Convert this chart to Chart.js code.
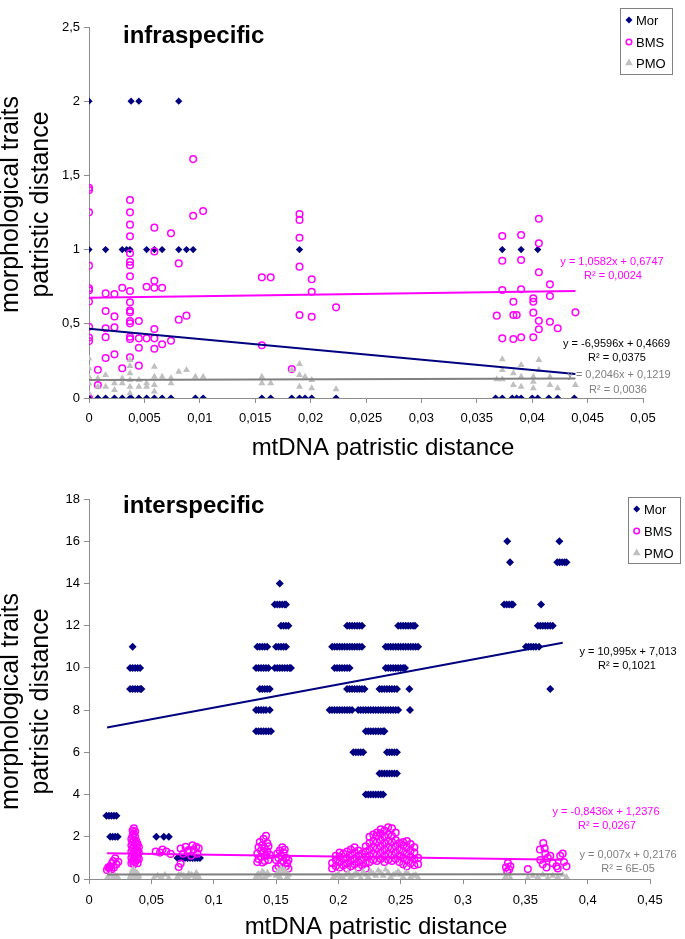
<!DOCTYPE html>
<html><head><meta charset="utf-8">
<script src="https://cdn.jsdelivr.net/npm/chart.js@4.4.0/dist/chart.umd.min.js"></script>
<style>
html,body{margin:0;padding:0;background:#fff;}
#wrap{position:relative;width:685px;height:939px;overflow:hidden;background:#fff;}
canvas{position:absolute;left:0;}
</style></head><body>
<div id="wrap">
<canvas id="c1" width="685" height="470" style="top:0px"></canvas>
<canvas id="c2" width="685" height="469" style="top:470px"></canvas>
</div>
<script>
// ---------- tick labels ----------
const xTickValsInfra = [0,0.005,0.01,0.015,0.02,0.025,0.03,0.035,0.04,0.045,0.05];
const xTickLabelsInfra = ['0','0,005','0,01','0,015','0,02','0,025','0,03','0,035','0,04','0,045','0,05'];
const yTickValsInfra = [0,0.5,1,1.5,2,2.5];
const yTickLabelsInfra = ['0','0,5','1','1,5','2','2,5'];
const xTickValsInter = [0,0.05,0.1,0.15,0.2,0.25,0.3,0.35,0.4,0.45];
const xTickLabelsInter = ['0','0,05','0,1','0,15','0,2','0,25','0,3','0,35','0,4','0,45'];
const yTickValsInter = [0,2,4,6,8,10,12,14,16,18];
const yTickLabelsInter = ['0','2','4','6','8','10','12','14','16','18'];

// ---------- infraspecific data [x, y] ----------
const morInfra = [
[0,2],[0.0038,2],[0.0045,2],[0.0081,2],
[0,1],[0.0015,1],[0.0030,1],[0.0034,1],[0.0037,1],[0.0052,1],[0.0059,1],[0.0066,1],[0.0081,1],[0.0088,1],[0.0094,1],[0.0190,1],[0.0373,1],[0.0390,1],[0.0405,1],
[0,0],[0.0008,0],[0.0015,0],[0.0023,0],[0.0030,0],[0.0037,0],[0.0038,0],[0.0045,0],[0.0052,0],[0.0059,0],[0.0066,0],[0.0074,0],[0.0096,0],[0.0103,0],[0.0156,0],[0.0164,0],[0.0183,0],[0.0190,0],[0.0195,0],[0.0201,0],[0.0223,0],
[0.0367,0],[0.0373,0],[0.0382,0],[0.0386,0],[0.0390,0],[0.0400,0],[0.0405,0],[0.0415,0],[0.0423,0],[0.0438,0]
];
const bmsInfra = [
[0,1.417],[0,1.402],[0,1.251],[0,0.892],[0,0.74],[0,0.726],[0,0.650],[0,0.480],[0,0.408],[0,0.384],[0,0.0],
[0.0008,0.19],[0.0008,0.088],
[0.0015,0.705],[0.0015,0.586],[0.0015,0.47],[0.0015,0.41],[0.0015,0.27],
[0.0023,0.70],[0.0023,0.55],[0.0023,0.476],[0.0023,0.294],
[0.0030,0.743],[0.0030,0.20],
[0.0037,1.334],[0.0037,1.251],[0.0037,1.168],[0.0037,1.09],[0.0037,0.975],[0.0037,0.918],[0.0037,0.895],[0.0037,0.82],[0.0037,0.721],[0.0037,0.645],[0.0037,0.59],[0.0037,0.577],[0.0037,0.519],[0.0037,0.503],[0.0037,0.413],[0.0037,0.398],[0.0037,0.274],
[0.0045,0.519],[0.0045,0.402],[0.0045,0.339],[0.0045,0.218],
[0.0052,0.75],[0.0052,0.402],
[0.0059,1.148],[0.0059,0.988],[0.0059,0.79],[0.0059,0.743],[0.0059,0.465],[0.0059,0.402],[0.0059,0.332],
[0.0066,0.743],[0.0066,0.362],
[0.0074,1.11],[0.0074,0.386],
[0.0081,0.907],[0.0081,0.528],
[0.0088,0.555],
[0.0094,1.61],[0.0094,1.228],
[0.0103,1.26],
[0.0156,0.813],[0.0156,0.355],[0.0164,0.813],
[0.0183,0.195],
[0.0190,1.24],[0.0190,1.2],[0.0190,1.08],[0.0190,0.885],[0.0190,0.559],
[0.0201,0.80],[0.0201,0.716],[0.0201,0.548],
[0.0223,0.611],
[0.0373,1.092],[0.0373,0.925],[0.0373,0.728],[0.0373,0.402],
[0.0368,0.555],
[0.0383,0.649],[0.0383,0.559],[0.0383,0.398],[0.0386,0.559],
[0.0390,1.098],[0.0390,0.93],[0.0390,0.733],[0.0390,0.409],
[0.0401,0.672],[0.0401,0.649],[0.0401,0.575],[0.0401,0.409],
[0.0406,1.208],[0.0406,1.042],[0.0406,0.847],[0.0406,0.521],[0.0406,0.463],
[0.0416,0.766],[0.0416,0.687],[0.0416,0.514],
[0.0423,0.47],
[0.0439,0.577]
];
const pmoInfra = [
[0,0.267],[0,0.2],[0,0.144],[0,0.099],[0,0.032],
[0.0008,0.133],[0.0008,0.076],
[0.0015,0.155],[0.0015,0.076],
[0.0023,0.099],[0.0023,0.054],
[0.0030,0.133],[0.0030,0.099],
[0.0037,0.256],[0.0037,0.216],[0.0037,0.166],[0.0037,0.121],[0.0037,0.076],[0.0037,0.032],
[0.0045,0.121],[0.0045,0.076],
[0.0052,0.099],[0.0052,0.076],
[0.0059,0.211],[0.0059,0.144],[0.0059,0.088],[0.0059,0.043],
[0.0066,0.144],
[0.0074,0.133],[0.0074,0.099],
[0.0081,0.177],
[0.0088,0.189],
[0.0096,0.144],
[0.0103,0.144],
[0.0156,0.144],[0.0156,0.099],[0.0164,0.099],
[0.0183,0.189],
[0.0190,0.229],[0.0190,0.155],[0.0190,0.076],
[0.0195,0.144],
[0.0201,0.121],[0.0201,0.065],
[0.0223,0.059],
[0.0373,0.261],[0.0373,0.189],[0.0373,0.126],[0.0368,0.126],
[0.0383,0.166],[0.0383,0.088],
[0.0390,0.222],[0.0390,0.144],[0.0390,0.076],
[0.0401,0.144],[0.0401,0.11],[0.0401,0.065],
[0.0406,0.256],[0.0406,0.189],
[0.0416,0.144],[0.0416,0.088],
[0.0423,0.065],
[0.0439,0.088]
];

// ---------- interspecific data [x, y] ----------
const morInter = [
[0.014,3],[0.016,3],[0.018,3],[0.020,3],[0.022,3],
[0.017,2],[0.019,2],[0.021,2],[0.023,2],
[0.035,11],
[0.033,10],[0.035,10],[0.037,10],[0.039,10],[0.041,10],
[0.033,9],[0.035,9],[0.037,9],[0.039,9],[0.041,9],[0.042,9],
[0.054,2],[0.060,2],[0.064,2],
[0.071,1],[0.073,1],[0.075,1],[0.077,1],[0.079,1],[0.081,1],[0.083,1],[0.085,1],[0.087,1],[0.089,1],
[0.134,7],[0.136,7],[0.138,7],[0.140,7],[0.142,7],[0.144,7],[0.146,7],
[0.134,8],[0.136,8],[0.138,8],[0.140,8],[0.142,8],[0.145,8],
[0.137,9],[0.139,9],[0.141,9],[0.143,9],[0.145,9],
[0.134,10],[0.136,10],[0.138,10],[0.140,10],[0.142,10],[0.144,10],[0.149,10],[0.151,10],[0.153,10],[0.155,10],[0.157,10],[0.159,10],[0.161,10],[0.162,10],
[0.135,11],[0.137,11],[0.139,11],[0.141,11],[0.143,11],[0.150,11],[0.152,11],[0.154,11],[0.156,11],[0.158,11],
[0.154,12],[0.156,12],[0.158,12],[0.160,12],
[0.149,13],[0.151,13],[0.153,13],[0.155,13],[0.157,13],[0.158,13],
[0.153,14],
[0.207,12],[0.209,12],[0.211,12],[0.213,12],[0.215,12],[0.217,12],[0.219,12],[0.248,12],[0.250,12],[0.252,12],[0.254,12],[0.256,12],[0.258,12],[0.260,12],[0.2615,12],
[0.195,11],[0.197,11],[0.199,11],[0.201,11],[0.203,11],[0.205,11],[0.207,11],[0.209,11],[0.211,11],[0.213,11],[0.215,11],[0.217,11],[0.219,11],[0.238,11],[0.240,11],[0.242,11],[0.244,11],[0.246,11],[0.248,11],[0.250,11],[0.252,11],[0.254,11],[0.256,11],[0.258,11],[0.260,11],[0.262,11],[0.264,11],
[0.197,10],[0.199,10],[0.201,10],[0.203,10],[0.205,10],[0.207,10],[0.209,10],[0.238,10],[0.240,10],[0.242,10],[0.244,10],[0.246,10],[0.248,10],[0.250,10],[0.252,10],[0.2535,10],
[0.207,9],[0.209,9],[0.211,9],[0.213,9],[0.215,9],[0.217,9],[0.219,9],[0.221,9],[0.233,9],[0.235,9],[0.237,9],[0.239,9],[0.241,9],[0.243,9],[0.245,9],[0.247,9],[0.257,9],
[0.193,8],[0.195,8],[0.197,8],[0.199,8],[0.201,8],[0.203,8],[0.205,8],[0.207,8],[0.209,8],[0.211,8],[0.216,8],[0.218,8],[0.220,8],[0.222,8],[0.224,8],[0.226,8],[0.228,8],[0.230,8],[0.232,8],[0.234,8],[0.236,8],[0.238,8],[0.240,8],[0.242,8],[0.244,8],[0.246,8],[0.248,8],[0.2575,8],
[0.222,7],[0.224,7],[0.226,7],[0.228,7],[0.230,7],[0.232,7],[0.234,7],[0.236,7],[0.237,7],
[0.212,6],[0.214,6],[0.216,6],[0.218,6],[0.220,6],[0.239,6],[0.241,6],[0.243,6],[0.245,6],[0.247,6],
[0.233,5],[0.235,5],[0.237,5],[0.239,5],[0.241,5],[0.243,5],[0.245,5],[0.247,5],
[0.222,4],[0.224,4],[0.226,4],[0.228,4],[0.230,4],[0.232,4],[0.234,4],[0.236,4],
[0.3355,16],[0.3773,16],
[0.3377,15],[0.3756,15],[0.3775,15],[0.3795,15],[0.3815,15],[0.383,15],
[0.333,13],[0.335,13],[0.337,13],[0.339,13],[0.340,13],[0.3626,13],
[0.360,12],[0.362,12],[0.364,12],[0.366,12],[0.368,12],[0.370,12],[0.372,12],
[0.3505,11],[0.3525,11],[0.3545,11],[0.3565,11],[0.3585,11],[0.361,11],
[0.370,9]
];
const bmsInter = [
[0.0144,0.43],[0.0155,0.55],[0.0165,0.5],[0.017,0.6],[0.018,0.45],[0.0185,0.75],[0.0194,0.85],[0.020,0.55],[0.021,0.98],[0.022,0.7],[0.0235,0.82],
[0.034,0.75],[0.034,1.0],[0.034,1.3],[0.034,1.6],[0.034,1.9],
[0.035,0.85],[0.035,1.15],[0.035,1.45],[0.035,1.75],[0.035,2.05],[0.035,2.3],
[0.036,0.7],[0.036,0.95],[0.036,1.25],[0.036,1.55],[0.036,1.85],[0.036,2.15],[0.036,2.4],
[0.037,0.8],[0.037,1.1],[0.037,1.4],[0.037,1.7],[0.037,2.0],[0.037,2.25],
[0.038,0.9],[0.038,1.2],[0.038,1.5],[0.038,1.8],
[0.039,0.75],[0.039,1.05],[0.039,1.35],[0.039,1.65],
[0.040,0.95],[0.040,1.25],[0.040,1.5],
[0.0535,1.3],[0.057,1.25],[0.059,1.4],[0.062,1.3],[0.0655,1.19],
[0.072,0.57],[0.0735,0.73],[0.0735,1.44],[0.0755,1.2],[0.0775,1.52],[0.079,1.3],[0.080,1.37],[0.082,1.1],[0.083,1.6],[0.084,1.4],[0.086,1.52],[0.087,1.2],[0.088,1.45],
[0.135,0.8],[0.135,1.2],[0.136,1.5],[0.136,0.95],[0.137,1.75],[0.138,1.05],[0.138,1.35],[0.139,1.6],[0.139,0.78],[0.140,1.9],[0.140,1.25],[0.141,1.45],[0.141,0.85],[0.142,2.05],[0.142,1.1],[0.143,1.7],[0.143,1.3],[0.144,0.9],[0.144,1.55],[0.145,1.15],
[0.150,0.5],[0.150,0.9],[0.151,1.2],[0.152,0.6],[0.152,1.0],[0.153,1.35],[0.154,0.75],[0.154,1.1],[0.155,1.5],[0.155,0.45],[0.156,0.85],[0.156,1.25],[0.157,1.4],[0.158,0.6],[0.158,1.0],[0.159,0.75],[0.160,0.5],[0.160,0.9],
[0.195,0.5],[0.195,0.75],
[0.198,0.6],[0.198,0.9],[0.198,1.1],
[0.201,0.55],[0.201,0.8],[0.201,1.05],[0.201,1.25],
[0.204,0.65],[0.204,0.95],[0.204,1.2],
[0.207,0.5],[0.207,0.75],[0.207,1.0],[0.207,1.3],
[0.210,0.6],[0.210,0.85],[0.210,1.15],[0.210,1.4],
[0.213,0.7],[0.213,0.95],[0.213,1.25],[0.213,1.5],
[0.216,0.55],[0.216,0.8],[0.216,1.1],[0.216,1.35],
[0.219,0.65],[0.219,0.9],[0.219,1.2],
[0.222,0.5],[0.222,0.75],[0.222,1.05],[0.222,1.3],[0.222,1.55],
[0.225,0.8],[0.225,1.1],[0.225,1.4],[0.225,1.7],[0.225,2.0],
[0.228,0.9],[0.228,1.2],[0.228,1.5],[0.228,1.8],[0.228,2.1],
[0.231,0.85],[0.231,1.15],[0.231,1.45],[0.231,1.75],[0.231,2.05],[0.231,2.2],
[0.234,0.95],[0.234,1.25],[0.234,1.55],[0.234,1.85],[0.234,2.15],[0.234,2.35],
[0.237,0.8],[0.237,1.1],[0.237,1.4],[0.237,1.7],[0.237,2.0],[0.237,2.3],
[0.240,0.9],[0.240,1.2],[0.240,1.5],[0.240,1.8],[0.240,2.1],[0.240,2.45],
[0.243,0.85],[0.243,1.15],[0.243,1.45],[0.243,1.75],[0.243,2.05],[0.243,2.4],
[0.246,0.95],[0.246,1.25],[0.246,1.55],[0.246,1.85],[0.246,2.2],
[0.249,0.8],[0.249,1.1],[0.249,1.4],[0.249,1.7],
[0.252,0.7],[0.252,1.0],[0.252,1.3],[0.252,1.6],[0.252,1.75],
[0.255,0.6],[0.255,0.9],[0.255,1.2],[0.255,1.5],[0.255,1.8],
[0.258,0.75],[0.258,1.05],[0.258,1.35],[0.258,1.65],
[0.261,0.65],[0.261,0.95],[0.261,1.25],[0.261,1.5],
[0.264,0.7],[0.264,1.0],
[0.3345,0.55],[0.3355,0.35],[0.336,0.75],[0.337,0.45],[0.338,0.6],
[0.352,0.47],
[0.3617,1.4],[0.362,0.9],[0.3644,1.7],[0.364,0.7],[0.3655,1.45],[0.366,1.2],[0.367,0.55],[0.368,1.0],[0.370,1.1],[0.372,0.75],[0.375,0.6],[0.376,0.5],[0.378,1.1],[0.380,1.2],[0.381,0.8],[0.383,0.6]
];
const pmoInter = [
[0.015,0.1],[0.017,0.2],[0.019,0.05],[0.021,0.15],[0.023,0.1],
[0.033,0.1],[0.034,0.3],[0.035,0.45],[0.036,0.2],[0.037,0.35],[0.038,0.1],[0.039,0.25],[0.040,0.15],
[0.0335,0.2],[0.0345,0.15],[0.0355,0.3],[0.0365,0.4],[0.0375,0.2],[0.0385,0.3],[0.0395,0.1],
[0.052,0.05],[0.055,0.15],[0.058,0.1],[0.061,0.2],[0.064,0.05],
[0.071,0.1],[0.074,0.2],[0.077,0.05],[0.080,0.25],[0.083,0.15],[0.086,0.3],[0.088,0.1],
[0.072,0.2],[0.076,0.15],[0.079,0.1],[0.082,0.2],[0.085,0.05],[0.087,0.2],
[0.134,0.1],[0.136,0.25],[0.138,0.05],[0.140,0.3],[0.142,0.15],[0.144,0.2],
[0.135,0.2],[0.137,0.15],[0.139,0.35],[0.141,0.1],[0.143,0.3],
[0.150,0.15],[0.152,0.35],[0.154,0.5],[0.155,0.25],[0.157,0.4],[0.159,0.1],[0.160,0.2],
[0.151,0.3],[0.153,0.1],[0.156,0.45],[0.158,0.3],
[0.196,0.1],[0.200,0.25],[0.204,0.05],[0.208,0.3],[0.212,0.15],[0.216,0.2],[0.220,0.35],[0.224,0.1],[0.228,0.25],[0.232,0.4],[0.236,0.15],[0.240,0.3],[0.244,0.2],[0.248,0.35],[0.252,0.1],[0.256,0.25],[0.260,0.15],[0.264,0.05],
[0.198,0.15],[0.202,0.1],[0.206,0.2],[0.210,0.1],[0.214,0.3],[0.218,0.05],[0.222,0.2],[0.226,0.35],[0.230,0.15],[0.234,0.3],[0.238,0.45],[0.242,0.1],[0.246,0.25],[0.250,0.2],[0.254,0.3],[0.258,0.1],[0.262,0.2],
[0.334,0.1],[0.336,0.2],[0.338,0.05],
[0.352,0.05],[0.356,0.15],[0.360,0.1],[0.364,0.2],[0.368,0.05],[0.372,0.15],[0.376,0.1],[0.380,0.2],[0.383,0.1]
];

// ---------- trendlines: [slope, intercept], x range ----------
const trendInfraMor = [-6.9596, 0.4669];
const trendInfraBms = [1.0582, 0.6747];
const trendInfraPmo = [0.2046, 0.1219];
const trendInfraRange = [0, 0.0439];
const trendInterMor = [10.995, 7.013];
const trendInterBms = [-0.8436, 1.2376];
const trendInterPmo = [0.007, 0.2176];
const trendInterRange = [0.0145, 0.38];

const eqInfra = [['y = 1,0582x + 0,6747','R² = 0,0024'],['y = -6,9596x + 0,4669','R² = 0,0375'],['y = 0,2046x + 0,1219','R² = 0,0036']];
const eqInter = [['y = -0,8436x + 1,2376','R² = 0,0267'],['y = 10,995x + 7,013','R² = 0,1021'],['y = 0,007x + 0,2176','R² = 6E-05']];
const legendLabels = ['Mor','BMS','PMO'];

// ---------- styling / layout ----------
const FONT = '"Liberation Sans", Arial, Helvetica, sans-serif';
const C_MOR = '#000080', C_BMS = '#FF00FF', C_PMO = '#C0C0C0', C_PMO_T = '#808080', C_AXIS = '#8c8c8c';

function toPts(arr){ return arr.map(p => ({x:p[0], y:p[1]})); }
function trendPts(coef, range){ return range.map(x => ({x:x, y:coef[0]*x + coef[1]})); }

function drawDiamond(ctx,x,y,r){ctx.beginPath();ctx.moveTo(x,y-r);ctx.lineTo(x+r,y);ctx.lineTo(x,y+r);ctx.lineTo(x-r,y);ctx.closePath();ctx.fillStyle=C_MOR;ctx.fill();}
function drawCircle(ctx,x,y,r){ctx.beginPath();ctx.arc(x,y,r,0,Math.PI*2);ctx.strokeStyle=C_BMS;ctx.lineWidth=1.5;ctx.stroke();}
function drawTri(ctx,x,y,r){ctx.beginPath();ctx.moveTo(x,y-r);ctx.lineTo(x+r*0.866,y+r*0.5);ctx.lineTo(x-r*0.866,y+r*0.5);ctx.closePath();ctx.fillStyle=C_PMO;ctx.fill();}

function annotPlugin(s){
  return {
    id:'annot_'+s.canvas,
    afterDraw(chart){
      const ctx = chart.ctx, oy = s.offsetY;
      ctx.save();
      ctx.fillStyle='#000'; ctx.textAlign='left'; ctx.textBaseline='alphabetic';
      ctx.font='bold 24px '+FONT;
      ctx.fillText(s.title, 123, s.titleBase-oy);
      ctx.font='24px '+FONT; ctx.textAlign='center';
      ctx.fillText('mtDNA patristic distance', s.xTitleX, s.xTitleBase-oy);
      ctx.font='25px '+FONT;
      const lines=['morphological traits','patristic distance'], bx=[17.5,47.5];
      for(let i=0;i<2;i++){
        ctx.save(); ctx.translate(bx[i], s.yTitleC-oy); ctx.rotate(-Math.PI/2);
        ctx.textAlign='center'; ctx.fillText(lines[i],0,0); ctx.restore();
      }
      ctx.font='11px '+FONT; ctx.textAlign='center';
      s.eqs.forEach((e,i)=>{
        const p = s.eqPos[i];
        ctx.fillStyle = s.eqColors[i];
        ctx.fillText(e[0], p[0], p[1]-oy);
        ctx.fillText(e[1], p[2], p[3]-oy);
      });
      const L = s.legend;
      ctx.fillStyle='#fff'; ctx.fillRect(L.x, L.y-oy, L.w, L.h);
      ctx.strokeStyle='#808080'; ctx.lineWidth=1;
      ctx.strokeRect(L.x+0.5, L.y-oy+0.5, L.w, L.h);
      ctx.font='13px '+FONT; ctx.textAlign='left'; ctx.textBaseline='middle';
      legendLabels.forEach((lab,i)=>{
        const cy = L.rows[i]-oy;
        if(i===0) drawDiamond(ctx, L.mx, cy, 3.5);
        if(i===1) drawCircle(ctx, L.mx, cy, 2.8);
        if(i===2) drawTri(ctx, L.mx, cy, 4.5);
        ctx.fillStyle='#000'; ctx.fillText(lab, L.tx, cy+1);
      });
      ctx.restore();
    }
  };
}

function makeChart(s){
  const el = document.getElementById(s.canvas);
  const tickFont = {size:13, family:FONT};
  const gridCfg = {display:true, drawOnChartArea:false, drawTicks:true, tickLength:5, color:C_AXIS, lineWidth:1};
  return new Chart(el, {
    type:'scatter',
    data:{datasets:[
      {label:'Mor trend', data:trendPts(s.tMor, s.tRange), showLine:true, borderColor:C_MOR, borderWidth:2, pointRadius:0, fill:false, order:0},
      {label:'BMS trend', data:trendPts(s.tBms, s.tRange), showLine:true, borderColor:C_BMS, borderWidth:2, pointRadius:0, fill:false, order:0},
      {label:'PMO trend', data:trendPts(s.tPmo, s.tRange), showLine:true, borderColor:C_PMO_T, borderWidth:2, pointRadius:0, fill:false, order:0},
      {label:'PMO', data:toPts(s.pmo), pointStyle:'triangle', pointRadius:4, backgroundColor:C_PMO, borderColor:C_PMO, borderWidth:0, order:1},
      {label:'BMS', data:toPts(s.bms), pointStyle:'circle', pointRadius:3.3, backgroundColor:'rgba(0,0,0,0)', borderColor:C_BMS, borderWidth:1.5, order:2},
      {label:'Mor', data:toPts(s.mor), pointStyle:'rectRot', pointRadius:s.morR, backgroundColor:C_MOR, borderColor:C_MOR, borderWidth:0, order:3}
    ]},
    options:{
      responsive:false, animation:false, devicePixelRatio:1, events:[],
      layout:{padding:{top:s.padTop, right:s.padRight, left:0, bottom:0}},
      plugins:{legend:{display:false}, tooltip:{enabled:false}, title:{display:false}},
      scales:{
        x:{type:'linear', min:s.xMin, max:s.xMax,
          afterBuildTicks: sc => { sc.ticks = s.xTicks.map(v => ({value:v})); },
          afterFit: sc => { sc.height = s.xAxisH; },
          grid:gridCfg, border:{display:true, color:C_AXIS, width:1},
          ticks:{callback:(v,i) => s.xLabels[i], font:tickFont, color:'#000', padding:s.xTickPad, maxRotation:0, minRotation:0, autoSkip:false}
        },
        y:{type:'linear', min:s.yMin, max:s.yMax,
          afterBuildTicks: sc => { sc.ticks = s.yTicks.map(v => ({value:v})); },
          afterFit: sc => { sc.width = 89; },
          grid:gridCfg, border:{display:true, color:C_AXIS, width:1},
          ticks:{callback:(v,i) => s.yLabels[i], font:tickFont, color:'#000', padding:4, autoSkip:false}
        }
      }
    },
    plugins:[annotPlugin(s)]
  });
}

makeChart({
  canvas:'c1', offsetY:0, padTop:27, padRight:42, xAxisH:72, xTickPad:8, morR:3.6,
  xMin:0, xMax:0.05, yMin:0, yMax:2.5,
  xTicks:xTickValsInfra, xLabels:xTickLabelsInfra, yTicks:yTickValsInfra, yLabels:yTickLabelsInfra,
  mor:morInfra, bms:bmsInfra, pmo:pmoInfra,
  tMor:trendInfraMor, tBms:trendInfraBms, tPmo:trendInfraPmo, tRange:trendInfraRange,
  title:'infraspecific', titleBase:43, xTitleX:383, xTitleBase:455, yTitleC:204.5,
  eqs:eqInfra, eqColors:[C_BMS,'#000',C_PMO_T],
  eqPos:[[612,265,613,279],[616.5,347,617,361],[619,378,618,393]],
  legend:{x:620, y:8, w:52, h:66, mx:629, tx:636, rows:[20,42,63]}
});

makeChart({
  canvas:'c2', offsetY:470, padTop:29, padRight:35, xAxisH:60, xTickPad:9, morR:4,
  xMin:0, xMax:0.45, yMin:0, yMax:18,
  xTicks:xTickValsInter, xLabels:xTickLabelsInter, yTicks:yTickValsInter, yLabels:yTickLabelsInter,
  mor:morInter, bms:bmsInter, pmo:pmoInter,
  tMor:trendInterMor, tBms:trendInterBms, tPmo:trendInterPmo, tRange:trendInterRange,
  title:'interspecific', titleBase:513, xTitleX:376, xTitleBase:934, yTitleC:701.5,
  eqs:eqInter, eqColors:[C_BMS,'#000',C_PMO_T],
  eqPos:[[606,815,607,829],[628,655,627,669],[628,858,628,872]],
  legend:{x:628, y:497, w:52, h:66, mx:636.7, tx:644, rows:[509,531,553]}
});
</script>
</body></html>
